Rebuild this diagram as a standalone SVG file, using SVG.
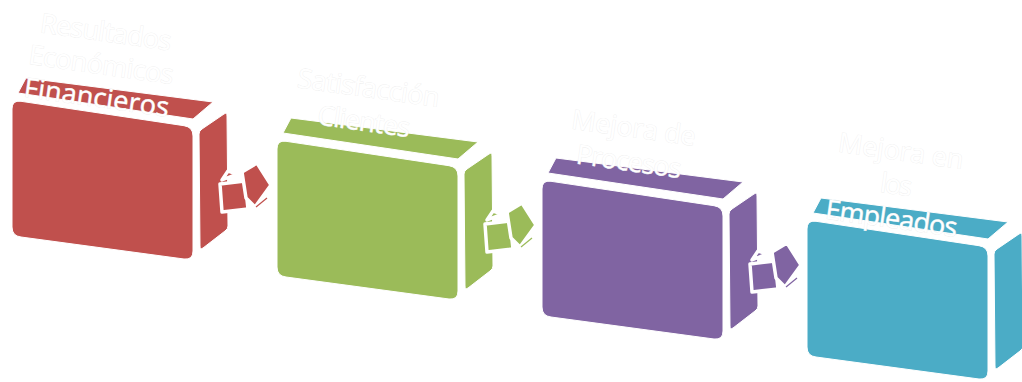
<svg xmlns="http://www.w3.org/2000/svg" width="1022" height="382" viewBox="0 0 1022 382">
<style>
.front{stroke:#ffffff;stroke-width:1;stroke-linejoin:round}
.face{stroke:#ffffff;stroke-width:1;stroke-linejoin:round}
.arr{stroke:#ffffff;stroke-width:3.5;stroke-linejoin:round}
.red{fill:#C0504D}.green{fill:#9BBB59}.purple{fill:#8064A2}.teal{fill:#4BACC6}
.lbl{font-family:"Open Sans","Liberation Sans",sans-serif;font-size:27px;fill:#ffffff;stroke:#ececec;stroke-width:0.6;paint-order:stroke;text-anchor:middle}
</style>
<defs>
<g id="box">
<path class="face" d="M26,78 L213,102 L193,119 L18,93 Z"/>
<path class="face" d="M199,134 Q199,131 202,129 L224,114 Q227,112 227,116 L228,226 Q228,229 225,231 L203,248 Q200,250 200,246 Z"/>
<path class="front" d="M12,109 Q12,100 21,101.3 L184,125.7 Q193,127 193,136 L193,251 Q193,260 184,259 L21,237 Q12,236 12,227 Z"/>
</g>
<g id="arrow">
<path class="arr" d="M220,184 L245,181 L248,209 L222,212 Z"/>
<path class="arr" d="M222,180 L228,171 L237,174 Z"/>
<path class="arr" d="M242,172 L257,163 L271,185 L255,207 L246,198 Z"/>
<path d="M256,207 L267,198" stroke-width="1.2" fill="none"/>
</g>
</defs>
<g id="node1">
<use href="#box" class="red"/>
<g transform="rotate(8 100 74)">
<text class="lbl" x="100" y="41" textLength="132" lengthAdjust="spacing">Resultados</text>
<text class="lbl" x="100" y="74" textLength="146" lengthAdjust="spacing">Económicos</text>
<text class="lbl" x="100" y="107" textLength="146" lengthAdjust="spacing">Financieros</text>
</g>
</g>
<g id="node2">
<use href="#box" class="green" transform="translate(265,40)"/>
<g transform="rotate(8 365 114)">
<text class="lbl" x="365" y="97" textLength="143" lengthAdjust="spacing">Satisfacción</text>
<text class="lbl" x="365" y="131" textLength="93" lengthAdjust="spacing">Clientes</text>
</g>
</g>
<g id="node3">
<use href="#box" class="purple" transform="translate(530,80)"/>
<g transform="rotate(8 630 154)">
<text class="lbl" x="630" y="137" textLength="125" lengthAdjust="spacing">Mejora de</text>
<text class="lbl" x="630" y="171" textLength="106" lengthAdjust="spacing">Procesos</text>
</g>
</g>
<g id="node4">
<use href="#box" class="teal" transform="translate(795,120)"/>
<g transform="rotate(8 895 194)">
<text class="lbl" x="895" y="160" textLength="126" lengthAdjust="spacing">Mejora en</text>
<text class="lbl" x="895" y="194" textLength="32" lengthAdjust="spacing">los</text>
<text class="lbl" x="895" y="228" textLength="133" lengthAdjust="spacing">Empleados</text>
</g>
</g>
<g id="connectors">
<use href="#arrow" class="red" stroke="#C0504D"/>
<use href="#arrow" class="green" stroke="#9BBB59" transform="translate(265,40)"/>
<use href="#arrow" class="purple" stroke="#8064A2" transform="translate(530,80)"/>
</g>
</svg>
